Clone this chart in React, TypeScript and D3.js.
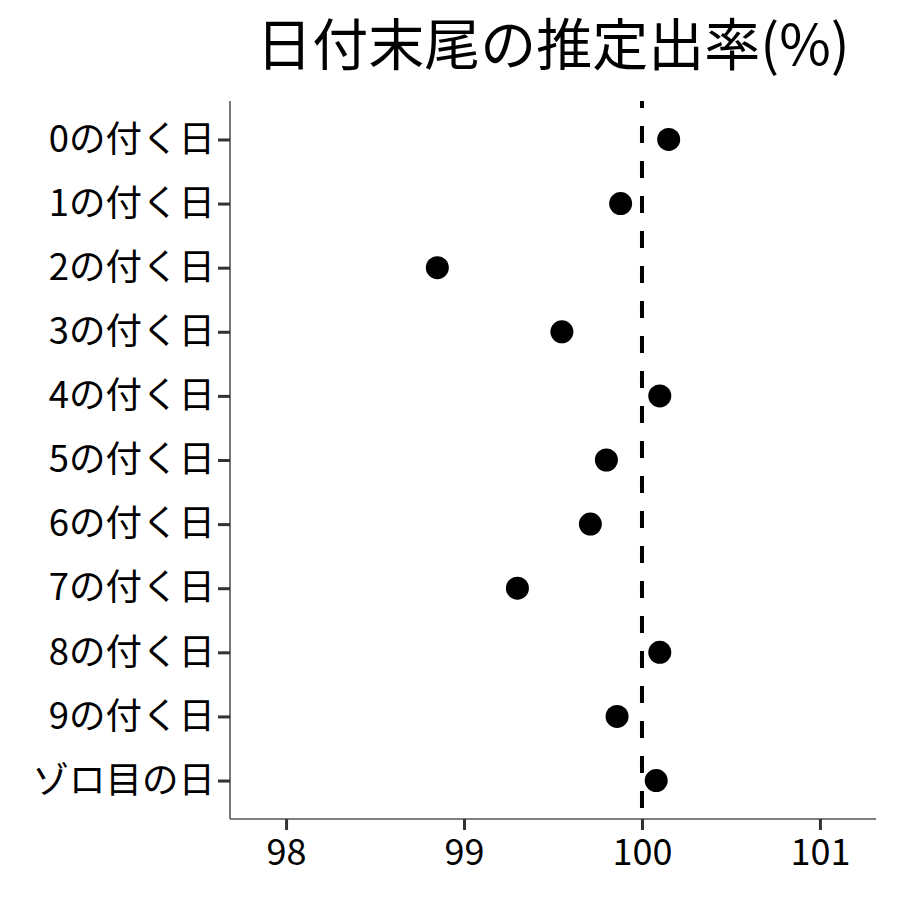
import React, { useEffect, useRef } from "react";
import * as d3 from "d3";

const categories = [
  "0の付く日",
  "1の付く日",
  "2の付く日",
  "3の付く日",
  "4の付く日",
  "5の付く日",
  "6の付く日",
  "7の付く日",
  "8の付く日",
  "9の付く日",
  "ゾロ目の日",
];
const rates = [100.15, 99.88, 98.85, 99.55, 100.1, 99.8, 99.71, 99.3, 100.1, 99.86, 100.08];
const xTicks = [98, 99, 100, 101];
const refLine = 100;
const title = "日付末尾の推定出率(%)";

const W = 900;
const H = 900;
const FONT = "'Noto Sans CJK JP', 'Noto Sans', sans-serif";

export default function App() {
  const ref = useRef<SVGSVGElement>(null);

  useEffect(() => {
    const svg = d3.select(ref.current);
    svg.selectAll("*").remove();

    const left = 230, right = 876, top = 101, bottom = 819;

    const x = d3.scaleLinear().domain([97.685, 101.315]).range([left, right]);
    const y = d3.scalePoint<string>().domain(categories).range([top, bottom]).padding(0.6);

    // title
    svg.append("text")
      .attr("x", (left + right) / 2)
      .attr("y", 65)
      .attr("text-anchor", "middle")
      .style("font-family", FONT)
      .style("font-size", "56px")
      .style("fill", "#000")
      .text(title);

    // reference line
    svg.append("line")
      .attr("x1", x(refLine)).attr("x2", x(refLine))
      .attr("y1", top).attr("y2", bottom)
      .attr("stroke", "#000")
      .attr("stroke-width", 4)
      .attr("stroke-dasharray", "17,18")
      .attr("stroke-dashoffset", 10);

    // points
    svg.append("g")
      .selectAll("circle")
      .data(categories)
      .enter().append("circle")
      .attr("cx", (d, i) => x(rates[i]))
      .attr("cy", d => y(d) as number)
      .attr("r", 11.5)
      .attr("fill", "#000");

    // x axis
    const gx = svg.append("g")
      .attr("transform", `translate(0,${bottom})`)
      .call(d3.axisBottom(x).tickValues(xTicks).tickFormat(d3.format("d")).tickSize(11).tickPadding(9));
    gx.select(".domain").attr("stroke", "#555").attr("stroke-width", 1.6).attr("d", `M${left},0H${right}`);
    gx.selectAll(".tick line").attr("stroke", "#333").attr("stroke-width", 3);
    gx.selectAll(".tick text")
      .style("font-family", FONT)
      .style("font-size", "36px")
      .attr("fill", "#000");

    // y axis
    const gy = svg.append("g")
      .attr("transform", `translate(${left},0)`)
      .call(d3.axisLeft(y).tickSize(12).tickPadding(3));
    gy.select(".domain").attr("stroke", "#555").attr("stroke-width", 1.6).attr("d", `M0,${top}V${bottom}`);
    gy.selectAll(".tick line").attr("stroke", "#333").attr("stroke-width", 3);
    gy.selectAll(".tick text")
      .style("font-family", FONT)
      .style("font-size", "36.5px")
      .attr("fill", "#000");
  }, []);

  return (
    <svg
      ref={ref}
      width={W}
      height={H}
      style={{ position: "absolute", left: 0, top: 0, background: "#fff" }}
    />
  );
}
